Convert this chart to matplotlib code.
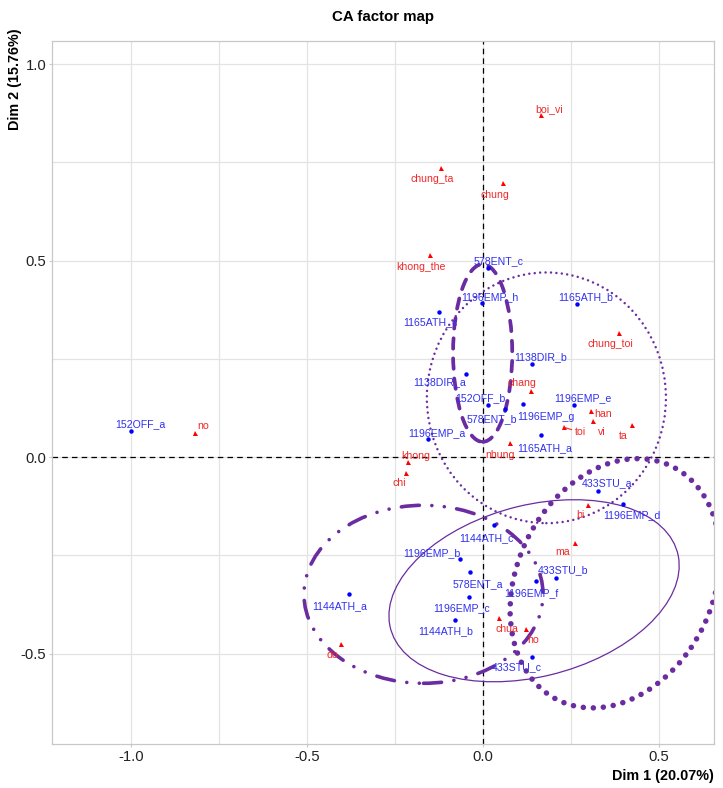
import matplotlib
matplotlib.use("Agg")
import matplotlib.pyplot as plt
from matplotlib.patches import Ellipse

plt.rcParams['lines.scale_dashes'] = False
plt.rcParams['font.family'] = ['Liberation Sans', 'DejaVu Sans']

# Row points (documents)
row_names = ['152OFF_a', '578ENT_c', '1196EMP_h', '1165ATH_b', '1165ATH_c',
             '1138DIR_b', '1138DIR_a', '152OFF_b', '578ENT_b', '1196EMP_g',
             '1196EMP_e', '1196EMP_a', '1165ATH_a', '433STU_a', '1196EMP_d',
             '1144ATH_c', '1196EMP_b', '578ENT_a', '433STU_b', '1196EMP_f',
             '1144ATH_a', '1196EMP_c', '1144ATH_b', '433STU_c']
row_dim1 = [-1.000, 0.014, -0.003, 0.267, -0.125,
            0.139, -0.048, 0.014, 0.063, 0.114,
            0.259, -0.156, 0.165, 0.327, 0.398,
            0.031, -0.065, -0.037, 0.207, 0.151,
            -0.381, -0.040, -0.080, 0.139]
row_dim2 = [0.066, 0.481, 0.392, 0.389, 0.369,
            0.237, 0.211, 0.132, 0.122, 0.135,
            0.132, 0.046, 0.056, -0.087, -0.120,
            -0.173, -0.260, -0.293, -0.308, -0.316,
            -0.349, -0.356, -0.415, -0.509]

# Column points (words)
col_names = ['boi_vi', 'chung_ta', 'chung', 'khong_the', 'chung_toi',
             'chang', 'han', 'vi', 'toi', 'ta', 'nhung', 'khong', 'chi',
             'bi', 'ma', 'chua', 'ho', 'do', 'no']
col_dim1 = [0.165, -0.119, 0.057, -0.151, 0.386,
            0.136, 0.307, 0.313, 0.230, 0.423, 0.077, -0.213, -0.219,
            0.298, 0.261, 0.045, 0.122, -0.403, -0.818]
col_dim2 = [0.870, 0.735, 0.697, 0.514, 0.316,
            0.168, 0.117, 0.092, 0.076, 0.081, 0.036, -0.013, -0.041,
            -0.122, -0.219, -0.410, -0.438, -0.476, 0.061]

# Group ellipses: centre, full width/height (data units), rotation (deg)
ell_cx = [-0.001, 0.180, -0.169, 0.145, 0.375]
ell_cy = [0.265, 0.151, -0.349, -0.340, -0.321]
ell_w = [0.168, 0.679, 0.679, 0.838, 0.681]
ell_h = [0.452, 0.638, 0.453, 0.438, 0.542]
ell_angle = [0.0, 0.0, 0.0, 12.2, 53.0]

# Label nudges in pixels (repelled text placement)
row_offsets = [(9, 7), (11, 7), (8, 6), (9, 7), (-9, -10),
               (9, 7), (-27, -8), (-8, 7), (-13, -10), (23, -13),
               (9, 7), (9, 6), (4, -13), (9, 8), (9, -11),
               (-8, -13), (-28, 6), (8, -12), (7, 8), (-5, -12),
               (-9, -12), (-7, -11), (-9, -11), (-15, -10)]
col_offsets = [(8, 6), (-9, -11), (-8, -12), (-9, -12), (-9, -11),
               (-9, 8), (12, -3), (9, -11), (16, -5), (-9, -11), (-10, -12),
               (8, 6), (-7, -10), (-8, -10), (-12, -9), (8, -11), (7, -11),
               (-9, -11), (8, 7)]

purple = '#6a2ca0'
blue_pt, blue_txt = '#0000ff', '#3030f0'
red_pt, red_txt = '#ff0000', '#f02828'

fig = plt.figure(figsize=(7.23, 7.88), dpi=100)
ax = fig.add_axes([52 / 723, 44 / 788, 662 / 723, 703 / 788])
ax.set_xlim(-1.224, 0.656)
ax.set_ylim(-0.730, 1.059)

ax.set_xticks([-1.0, -0.5, 0.0, 0.5])
ax.set_xticklabels(['-1.0', '-0.5', '0.0', '0.5'])
ax.set_yticks([-0.5, 0.0, 0.5, 1.0])
ax.set_yticklabels(['-0.5', '0.0', '0.5', '1.0'])
ax.set_xticks([-0.75, -0.25, 0.25], minor=True)
ax.set_yticks([-0.25, 0.25, 0.75], minor=True)
ax.grid(True, which='both', color='#e3e3e3', lw=0.9, zorder=0)
ax.set_axisbelow(True)
ax.tick_params(which='major', length=2.5, width=0.8, color='#c8c8c8',
               labelsize=10.7, labelcolor='#222222', pad=1.5)
ax.tick_params(which='minor', length=0)
for sp in ax.spines.values():
    sp.set_color('#c8c8c8')
    sp.set_linewidth(0.9)

ax.axhline(0, color='black', lw=0.9, ls=(0, (4, 3)), zorder=1)
ax.axvline(0, color='black', lw=0.9, ls=(0, (4, 3)), zorder=1)

# Ellipse line styles
styles = [
    dict(lw=2.7, ls=(0, (7.5, 7)), cap='round'),
    dict(lw=1.8, ls=(0, (0.01, 3.9)), cap='round'),
    dict(lw=2.6, ls=(0, (13, 9, 0.01, 9, 0.01, 9)), cap='round'),
    dict(lw=0.9, ls='-', cap='butt'),
    dict(lw=4.0, ls=(0, (0.01, 7.2)), cap='round'),
]
for cx, cy, w, h, a, st in zip(ell_cx, ell_cy, ell_w, ell_h, ell_angle, styles):
    e = Ellipse((cx, cy), w, h, angle=a, fill=False, edgecolor=purple,
                lw=st['lw'], ls=st['ls'], zorder=2)
    e.set_capstyle(st['cap'])
    ax.add_patch(e)

ax.plot(row_dim1, row_dim2, 'o', color=blue_pt, ms=3.2, mew=0, zorder=3)
ax.plot(col_dim1, col_dim2, '^', color=red_pt, ms=3.6, mew=0, zorder=3)

for name, x, y, (dx, dy) in zip(row_names, row_dim1, row_dim2, row_offsets):
    ax.annotate(name, (x, y), xytext=(dx, dy), textcoords='offset pixels',
                ha='center', va='center', color=blue_txt, fontsize=7.6,
                zorder=4)
for name, x, y, (dx, dy) in zip(col_names, col_dim1, col_dim2, col_offsets):
    seg = None
    if name == 'toi':
        seg = dict(arrowstyle='-', color=red_txt, lw=0.8,
                   shrinkA=0, shrinkB=0)
    ax.annotate(name, (x, y), xytext=(dx, dy), textcoords='offset pixels',
                ha='center', va='center', color=red_txt, fontsize=7.6,
                arrowprops=seg, zorder=4)

fig.text(383 / 723, 1 - 17 / 788, 'CA factor map', ha='center', va='center',
         fontsize=10.8, fontweight='bold')
fig.text(714 / 723, 1 - 776 / 788, 'Dim 1 (20.07%)', ha='right', va='center',
         fontsize=10.4, fontweight='bold')
fig.text(15 / 723, 1 - 28 / 788, 'Dim 2 (15.76%)', ha='center', va='top',
         rotation=90, fontsize=10.4, fontweight='bold')

fig.savefig('out.png', dpi=100)
